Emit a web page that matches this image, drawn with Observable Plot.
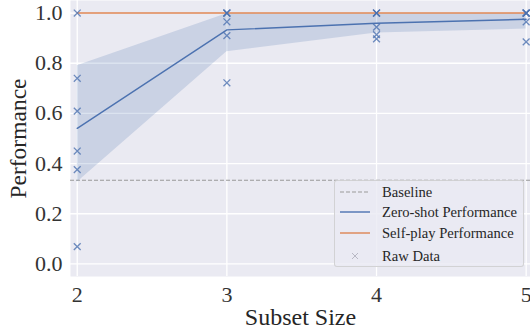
<!DOCTYPE html>
<html>
<head>
<meta charset="utf-8">
<script src="https://cdn.jsdelivr.net/npm/d3@7"></script>
<script src="https://cdn.jsdelivr.net/npm/@observablehq/plot@0.6"></script>
<style>
  body { margin: 0; background: #fff; }
  #wrap { position: relative; width: 530px; height: 332px; font-family: "Liberation Serif", serif; }
  #wrap svg text { font-family: "Liberation Serif", serif !important; }
  #legend { position: absolute; left: 334px; top: 180px; width: 190px; height: 87px;
    background: rgba(234,234,242,0.8); border: 1px solid rgba(204,204,204,0.8); border-radius: 3px;
    box-sizing: border-box; font-size: 14.6px; color: #262626; font-family: "Liberation Serif", serif; }
  .row { position: absolute; left: 0; height: 20px; display: flex; align-items: center; white-space: nowrap; }
  .row svg { margin-left: 4px; margin-right: 11px; }
</style>
</head>
<body>
<div id="wrap"></div>
<script>
// ---- data ----
const subsetSizes = [2, 3, 4, 5];
const raw2 = [1.0, 0.74, 0.609, 0.45, 0.376, 0.069];
const raw3 = [1.0, 1.0, 1.0, 0.965, 0.91, 0.722];
const raw4 = [1.0, 1.0, 1.0, 0.944, 0.914, 0.897];
const raw5 = [1.0, 1.0, 1.0, 1.0, 0.965, 0.885];
const ciLow = [0.326, 0.846, 0.92, 0.936];
const ciHigh = [0.79, 0.997, 0.997, 0.998];
const selfPlay = [1.0, 1.0, 1.0, 1.0];
const baseline = 1 / 3;
const yTicks = [0, 0.2, 0.4, 0.6, 0.8, 1.0];
const legendLabels = ["Baseline", "Zero-shot Performance", "Self-play Performance", "Raw Data"];

const blue = "#4C72B0", orange = "#DD8452", grey = "#999999";
const rawLists = [raw2, raw3, raw4, raw5];
const rawData = rawLists.flatMap((arr, i) => arr.map(v => ({x: subsetSizes[i], y: v})));
const summary = subsetSizes.map((s, i) => ({
  x: s, mean: d3.mean(rawLists[i]), lo: ciLow[i], hi: ciHigh[i], self: selfPlay[i]
}));

const chart = Plot.plot({
  width: 530,
  height: 332,
  marginLeft: 70,
  marginRight: 0,
  marginTop: 0,
  marginBottom: 56,
  style: {fontFamily: "'Liberation Serif', serif", fontSize: "22px", color: "#333", background: "transparent"},
  x: {domain: [1.955, 5.029]},
  y: {domain: [-0.05, 1.05]},
  marks: [
    Plot.frame({fill: "#EAEAF2", stroke: null}),
    Plot.gridX(subsetSizes, {stroke: "white", strokeOpacity: 1, strokeWidth: 1.3}),
    Plot.gridY(yTicks, {stroke: "white", strokeOpacity: 1, strokeWidth: 1.3}),
    Plot.axisX({ticks: subsetSizes, tickSize: 0, tickPadding: 10, label: null, tickFormat: d3.format("d"), fontSize: 22, fill: "#333"}),
    Plot.axisY({ticks: yTicks, tickSize: 0, tickPadding: 8, label: null, tickFormat: d3.format(".1f"), fontSize: 22, fill: "#333"}),
    Plot.axisX({ticks: [], tickSize: 0, label: "Subset Size", labelAnchor: "center", labelArrow: "none", labelOffset: 48, dx: -4, fontSize: 24, fill: "#262626"}),
    Plot.axisY({ticks: [], tickSize: 0, label: "Performance", labelAnchor: "center", labelArrow: "none", labelOffset: 61, fontSize: 23.5, fill: "#262626"}),
    Plot.ruleY([baseline], {stroke: grey, strokeWidth: 1.1, strokeDasharray: "4,2"}),
    Plot.areaY(summary, {x: "x", y1: "lo", y2: "hi", fill: blue, fillOpacity: 0.2}),
    Plot.lineY(summary, {x: "x", y: "mean", stroke: blue, strokeWidth: 1.4}),
    Plot.lineY(summary, {x: "x", y: "self", stroke: orange, strokeWidth: 1.4}),
    Plot.dot(rawData, {x: "x", y: "y", symbol: "times", r: 3.2, stroke: blue, strokeOpacity: 0.8, strokeWidth: 1.3})
  ]
});

const wrap = document.getElementById("wrap");
wrap.appendChild(chart);

// legend
const legend = document.createElement("div");
legend.id = "legend";
const handles = [
  `<svg width="32" height="10"><line x1="1" x2="31" y1="5" y2="5" stroke="${grey}" stroke-width="1.1" stroke-dasharray="4,2"/></svg>`,
  `<svg width="32" height="10"><line x1="1" x2="31" y1="5" y2="5" stroke="${blue}" stroke-width="1.4"/></svg>`,
  `<svg width="32" height="10"><line x1="1" x2="31" y1="5" y2="5" stroke="${orange}" stroke-width="1.4"/></svg>`,
  `<svg width="32" height="10"><path d="M13 2L19 8M19 2L13 8" stroke="#b8b8c4" stroke-width="1"/></svg>`
];
const rowTops = [1, 21, 42, 65];
legendLabels.forEach((lab, i) => {
  const r = document.createElement("div");
  r.className = "row";
  r.style.top = rowTops[i] + "px";
  r.innerHTML = handles[i] + `<span>${lab}</span>`;
  legend.appendChild(r);
});
wrap.appendChild(legend);
</script>
</body>
</html>
